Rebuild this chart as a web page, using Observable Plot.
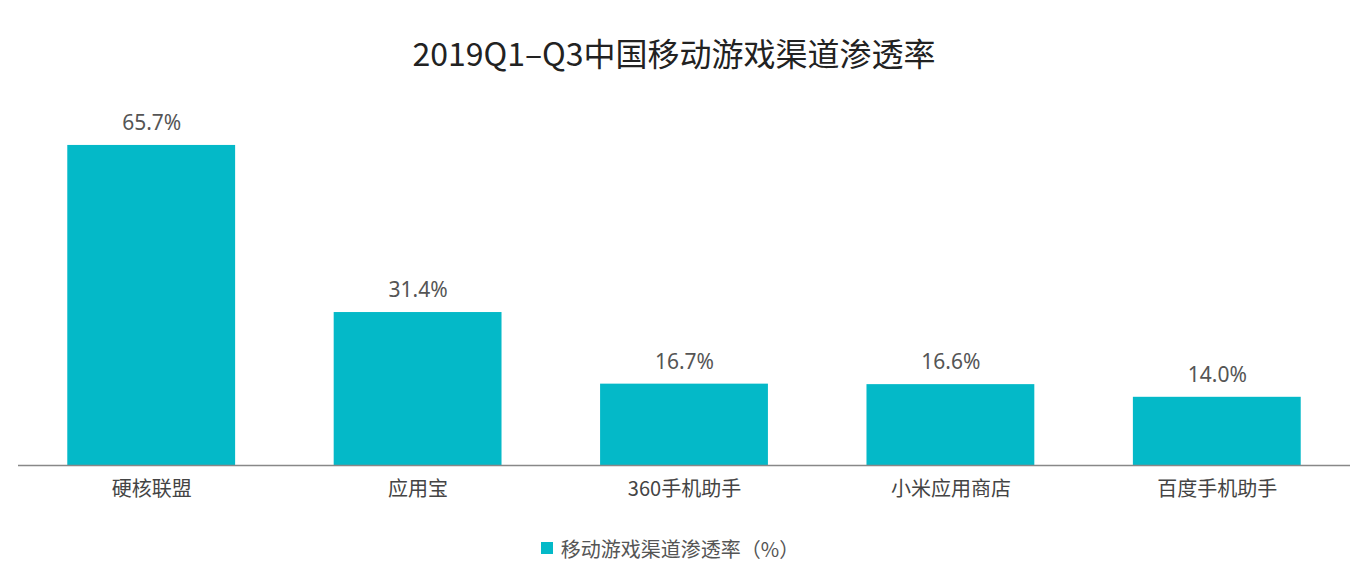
<!DOCTYPE html>
<html><head><meta charset="utf-8">
<script src="https://cdn.jsdelivr.net/npm/d3@7"></script>
<script src="https://cdn.jsdelivr.net/npm/@observablehq/plot@0.6"></script>
<style>
body{margin:0;background:#fff;font-family:"Noto Sans CJK SC","Noto Sans",sans-serif;}
#title{height:90px;line-height:104px;text-align:center;font-size:32px;color:#222;padding-right:20px;}
#legend{height:64px;display:flex;justify-content:center;align-items:flex-start;padding-top:14px;padding-right:28px;box-sizing:border-box;font-size:20px;color:#555;}
#legend .sw{width:12px;height:12px;background:#04B9C8;margin:8px 8px 0 0;}
</style></head><body>
<div id="title">2019Q1–Q3中国移动游戏渠道渗透率</div>
<div id="chart"></div>
<div id="legend"><div class="sw"></div><div>移动游戏渠道渗透率（%）</div></div>
<script>
const categories = ["硬核联盟","应用宝","360手机助手","小米应用商店","百度手机助手"];
const values = [65.7, 31.4, 16.7, 16.6, 14.0];
const seriesName = "移动游戏渠道渗透率（%）";
const data = categories.map((c,i)=>({category:c, value:values[i]}));
const chart = Plot.plot({
  width:1368, height:430,
  marginLeft:18, marginRight:18, marginTop:34, marginBottom:55,
  style:{fontFamily:'"Noto Sans CJK SC","Noto Sans",sans-serif', background:"#fff"},
  x:{domain:categories, paddingInner:0.37, paddingOuter:0.185, round:false, label:null},
  y:{domain:[0,70], axis:null},
  marks:[
    Plot.barY(data,{x:"category", y:"value", fill:"#04B9C8"}),
    Plot.ruleY([0],{stroke:"#888", strokeWidth:1.5}),
    Plot.text(data,{x:"category", y:"value", text:d=>d.value.toFixed(1)+"%", dy:-22, fontSize:21, fill:"#555", fontFamily:'"Noto Sans",sans-serif'}),
    Plot.axisX({tickSize:0, tickPadding:16, fontSize:20, color:"#444", label:null})
  ]
});
document.getElementById("chart").appendChild(chart);
</script>
</body></html>
